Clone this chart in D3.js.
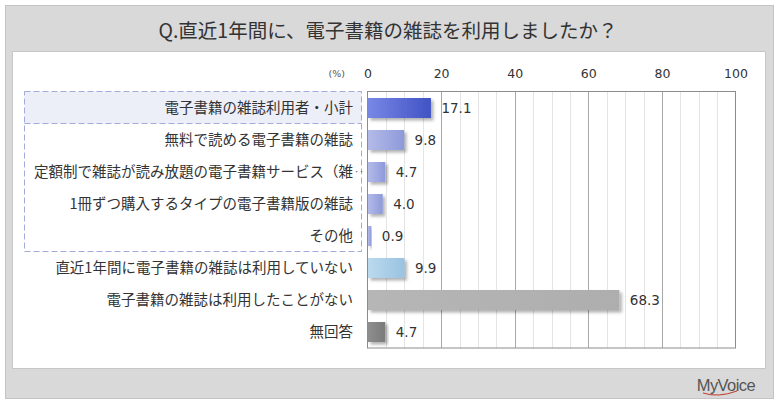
<!DOCTYPE html>
<html><head><meta charset="utf-8">
<script src="https://cdn.jsdelivr.net/npm/d3@7"></script>
<style>
html,body{margin:0;padding:0;background:#fff;}
svg{display:block;}
</style></head>
<body>
<script>
const title = "Q.直近1年間に、電子書籍の雑誌を利用しましたか？";
const categories = [
  "電子書籍の雑誌利用者・小計",
  "無料で読める電子書籍の雑誌",
  "定額制で雑誌が読み放題の電子書籍サービス（雑…",
  "1冊ずつ購入するタイプの電子書籍版の雑誌",
  "その他",
  "直近1年間に電子書籍の雑誌は利用していない",
  "電子書籍の雑誌は利用したことがない",
  "無回答"
];
const values = [17.1, 9.8, 4.7, 4.0, 0.9, 9.9, 68.3, 4.7];
const tickValues = [0, 20, 40, 60, 80, 100];
const unitLabel = "(%)";
const groupedCount = 5; // first rows inside dashed box
const barColors = [
  ["#7888e6", "#4152c4"],
  ["#b4bbe9", "#8e99da"],
  ["#b4bbe9", "#8e99da"],
  ["#b4bbe9", "#8e99da"],
  ["#b4bbe9", "#8e99da"],
  ["#bcd9ee", "#99c3e1"],
  ["#b6b6b6", "#aeaeae"],
  ["#8e8e8e", "#7a7a7a"]
];

const W = 780, H = 405;
const svg = d3.select("body").append("svg").attr("width", W).attr("height", H);
const defs = svg.append("defs");
const sh = defs.append("filter").attr("id","shadow").attr("x","-10%").attr("y","-20%").attr("width","130%").attr("height","160%");
sh.append("feDropShadow").attr("dx",2.5).attr("dy",2.5).attr("stdDeviation",1.4).attr("flood-color","#000").attr("flood-opacity",0.3);
barColors.forEach((c,i)=>{
  const g = defs.append("linearGradient").attr("id","g"+i).attr("x1","0%").attr("x2","100%").attr("y1","0%").attr("y2","0%");
  g.append("stop").attr("offset","0%").attr("stop-color",c[0]);
  g.append("stop").attr("offset","100%").attr("stop-color",c[1]);
});

// frames
svg.append("rect").attr("x",5.5).attr("y",5.5).attr("width",768).attr("height",393)
  .attr("fill","#d9d9d9").attr("stroke","#c4c4c4");
svg.append("rect").attr("x",12.5).attr("y",51.5).attr("width",753).attr("height",317)
  .attr("fill","#fff").attr("stroke","#c6c6c6");

svg.append("text").attr("x",388).attr("y",38).attr("text-anchor","middle")
  .attr("font-family","'Noto Sans CJK JP', sans-serif").attr("font-size",19.5).attr("fill","#333")
  .text(title);

const x = d3.scaleLinear().domain([0,100]).range([367.5,735.5]);
const y = d3.scaleBand().domain(categories).range([92,348]).paddingInner(0.375).paddingOuter(0.1875);

// dashed group box
const boxTop = 92, boxBottom = 92 + y.step()*groupedCount;
svg.append("rect").attr("x",24.5).attr("y",boxTop-0.5).attr("width",337).attr("height",y.step())
  .attr("fill","#eceef8");
svg.append("rect").attr("x",24.5).attr("y",boxTop-0.5).attr("width",337).attr("height",boxBottom-boxTop)
  .attr("fill","none").attr("stroke","#a3abd9").attr("stroke-dasharray","6,3");
svg.append("line").attr("x1",24.5).attr("x2",361.5).attr("y1",boxTop+y.step()-0.5).attr("y2",boxTop+y.step()-0.5)
  .attr("stroke","#a3abd9").attr("stroke-dasharray","6,3");

// minor grid
const minor = d3.range(5,100,5).filter(v=>v%20!==0);
svg.append("g").selectAll("line").data(minor).join("line")
  .attr("x1",d=>Math.round(x(d))+0.5).attr("x2",d=>Math.round(x(d))+0.5)
  .attr("y1",92).attr("y2",348).attr("stroke","#e4e4e4");
// major grid
svg.append("g").selectAll("line").data(tickValues.slice(1,-1)).join("line")
  .attr("x1",d=>Math.round(x(d))+0.5).attr("x2",d=>Math.round(x(d))+0.5)
  .attr("y1",92).attr("y2",348).attr("stroke","#a8a8a8");
svg.append("rect").attr("x",367.5).attr("y",91.5).attr("width",368).attr("height",256.5)
  .attr("fill","none").attr("stroke","#8c8c8c");

// axis labels
const ax = svg.append("g").attr("transform","translate(0,78)")
  .call(d3.axisTop(x).tickValues(tickValues).tickSize(0).tickPadding(0).tickFormat(d3.format("d")));
ax.select(".domain").remove();
ax.selectAll("text").attr("font-family","'DejaVu Sans', Verdana, sans-serif").attr("font-size",12.5).attr("fill","#333");
svg.append("text").attr("x",345).attr("y",77).attr("text-anchor","end")
  .attr("font-family","'DejaVu Sans', sans-serif").attr("font-size",9.5).attr("fill","#555").text(unitLabel);

// bars
svg.append("g").selectAll("rect").data(values).join("rect")
  .attr("x",x(0)+0.5).attr("y",(d,i)=>y(categories[i]))
  .attr("width",d=>x(d)-x(0)).attr("height",y.bandwidth())
  .attr("fill",(d,i)=>`url(#g${i})`).attr("filter","url(#shadow)");

// value labels
svg.append("g").selectAll("text").data(values).join("text")
  .attr("x",d=>x(d)+11).attr("y",(d,i)=>y(categories[i])+y.bandwidth()/2)
  .attr("dy","0.36em").attr("font-family","'DejaVu Sans', Verdana, sans-serif")
  .attr("font-size",13.5).attr("fill","#333").text(d=>d.toFixed(1));

// category labels
svg.append("g").selectAll("text").data(categories).join("text")
  .attr("x",353).attr("y",d=>y(d)+y.bandwidth()/2).attr("dy","0.36em")
  .attr("text-anchor","end").attr("font-family","'Noto Sans CJK JP', sans-serif")
  .attr("font-size",14.5).attr("fill","#333")
  .text(d=>d.endsWith("…")?d.slice(0,-1):d);
categories.forEach(d=>{
  if(d.endsWith("…")){
    svg.append("text").attr("x",354).attr("y",y(d)+y.bandwidth()/2).attr("dy","0.36em")
      .attr("font-family","'Noto Sans CJK JP', sans-serif").attr("font-size",10).attr("fill","#555").text("‥");
  }
});

// logo
svg.append("text").attr("x",755).attr("y",391).attr("text-anchor","end")
  .attr("font-family","'Liberation Sans Narrow','Liberation Sans',sans-serif").attr("font-size",16.5)
  .attr("letter-spacing",-0.6).attr("fill","#555").text("MyVoice");
svg.append("path").attr("d","M703,393 Q718,398 737,391").attr("fill","none").attr("stroke","#c0392b").attr("stroke-width",1);
</script>
</body></html>
